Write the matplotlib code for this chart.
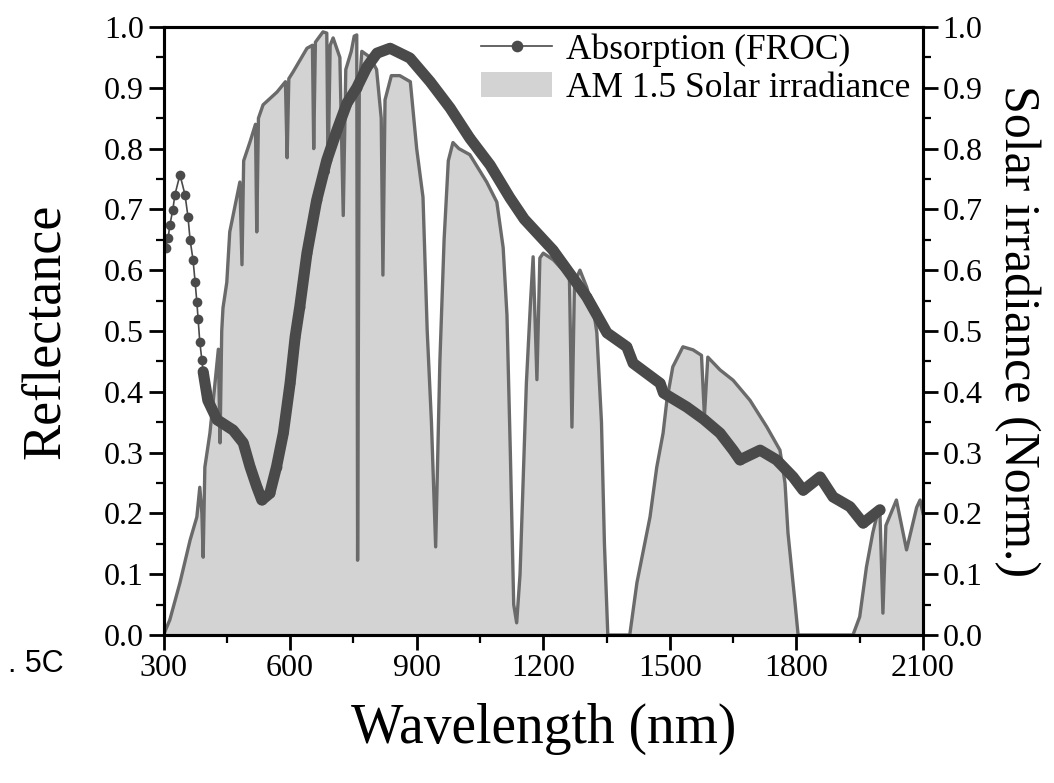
import matplotlib
matplotlib.use("Agg")
import matplotlib.pyplot as plt
from matplotlib.ticker import MultipleLocator

plt.rcParams['font.family'] = ['Liberation Serif', 'DejaVu Serif']

# Absorption (FROC) curve (nm, reflectance)
abs_wl = [305, 311, 315, 322, 327, 339, 351, 358, 363, 370, 375, 379, 382, 386,
          391, 394, 405, 427, 465, 489, 505, 521, 533, 552, 568, 584, 600, 612,
          623, 640, 663, 687, 711, 735, 758, 782, 806, 837, 884, 932, 979, 1026,
          1074, 1121, 1155, 1223, 1303, 1351, 1398, 1413, 1477, 1485, 1540, 1580,
          1619, 1650, 1666, 1714, 1753, 1792, 1816, 1856, 1887, 1927, 1958, 1998]
abs_val = [0.637, 0.653, 0.674, 0.699, 0.724, 0.757, 0.724, 0.688, 0.650, 0.617,
           0.580, 0.548, 0.520, 0.482, 0.452, 0.433, 0.386, 0.354, 0.337, 0.316,
           0.277, 0.244, 0.222, 0.233, 0.277, 0.332, 0.414, 0.490, 0.540, 0.628,
           0.715, 0.781, 0.830, 0.875, 0.900, 0.934, 0.957, 0.965, 0.949, 0.910,
           0.867, 0.817, 0.773, 0.719, 0.684, 0.633, 0.556, 0.497, 0.474, 0.447,
           0.414, 0.398, 0.375, 0.355, 0.332, 0.304, 0.288, 0.304, 0.288, 0.260,
           0.238, 0.260, 0.227, 0.211, 0.184, 0.206]

# AM 1.5 solar irradiance, normalised (nm, value)
sun_wl = [300, 315, 339, 363, 379, 386, 391, 394, 398, 410, 420, 430, 434, 438,
          441, 450, 457, 481, 486, 490, 505, 518, 521, 525, 536, 569, 589, 593,
          597, 607, 640, 653, 656, 660, 678, 687, 690, 695, 702, 718, 726, 732,
          745, 752, 758, 760, 764, 770, 790, 805, 816, 820, 825, 840, 860, 885,
          900, 915, 925, 935, 945, 955, 965, 975, 986, 1000, 1026, 1066, 1090,
          1105, 1114, 1122, 1130, 1137, 1145, 1160, 1170, 1176, 1185, 1192, 1200,
          1224, 1240, 1262, 1268, 1274, 1287, 1303, 1320, 1327, 1338, 1345, 1353,
          1405, 1422, 1453, 1469, 1484, 1493, 1507, 1531, 1555, 1575, 1582, 1590,
          1619, 1650, 1690, 1730, 1761, 1773, 1780, 1796, 1804, 1934, 1950, 1966,
          1981, 1990, 1998, 2005, 2012, 2037, 2061, 2085, 2093, 2100]
sun_val = [0.0, 0.025, 0.086, 0.156, 0.194, 0.243, 0.20, 0.128, 0.276, 0.332,
           0.40, 0.47, 0.316, 0.50, 0.538, 0.58, 0.663, 0.745, 0.609, 0.78, 0.811,
           0.84, 0.663, 0.85, 0.872, 0.893, 0.91, 0.785, 0.915, 0.926, 0.965, 0.97,
           0.80, 0.975, 0.992, 0.99, 0.76, 0.97, 0.982, 0.95, 0.69, 0.93, 0.96,
           0.985, 0.987, 0.123, 0.90, 0.96, 0.95, 0.93, 0.85, 0.592, 0.88, 0.92,
           0.92, 0.91, 0.80, 0.72, 0.50, 0.35, 0.145, 0.45, 0.65, 0.78, 0.81, 0.80,
           0.79, 0.745, 0.712, 0.637, 0.526, 0.30, 0.05, 0.02, 0.10, 0.414, 0.55,
           0.622, 0.42, 0.62, 0.628, 0.617, 0.605, 0.59, 0.342, 0.58, 0.60, 0.572,
           0.53, 0.497, 0.35, 0.15, 0.0, 0.0, 0.086, 0.194, 0.276, 0.332, 0.386,
           0.441, 0.474, 0.469, 0.46, 0.36, 0.457, 0.436, 0.419, 0.386, 0.342,
           0.304, 0.25, 0.168, 0.058, 0.0, 0.0, 0.03, 0.112, 0.168, 0.194, 0.20,
           0.036, 0.18, 0.222, 0.14, 0.21, 0.222, 0.20]

fill_col = '#d3d3d3'
edge_col = '#6a6a6a'
line_col = '#4a4a4a'

fig = plt.figure(figsize=(10.54, 7.83), dpi=100)
ax = fig.add_axes([163.5 / 1054, 1 - 635 / 783, (923 - 163.5) / 1054, (635 - 27) / 783])

ax.fill_between(sun_wl, sun_val, 0, color=fill_col, lw=0, zorder=1,
                label='AM 1.5 Solar irradiance')
ax.plot(sun_wl, sun_val, color=edge_col, lw=2.4, zorder=2)

# thick band for the dense part of the measured curve
ax.plot(abs_wl[15:], abs_val[15:], color=line_col, lw=8, solid_capstyle='round', zorder=3)
ax.plot(abs_wl, abs_val, color=line_col, lw=1.2, marker='o', ms=7,
        markeredgewidth=0, zorder=4, label='Absorption (FROC)')

ax.set_xlim(300, 2100)
ax.set_ylim(0, 1.0)
ax.xaxis.set_major_locator(MultipleLocator(300))
ax.xaxis.set_minor_locator(MultipleLocator(150))
ax.yaxis.set_major_locator(MultipleLocator(0.1))
ax.yaxis.set_minor_locator(MultipleLocator(0.05))
ax.yaxis.set_major_formatter(lambda v, p: f"{v:.1f}")

ax2 = ax.twinx()
ax2.set_ylim(0, 1.0)
ax2.yaxis.set_major_locator(MultipleLocator(0.1))
ax2.yaxis.set_minor_locator(MultipleLocator(0.05))
ax2.yaxis.set_major_formatter(lambda v, p: f"{v:.1f}")

for a in (ax, ax2):
    for s in a.spines.values():
        s.set_linewidth(2.2)
    a.tick_params(which='major', direction='out', length=11, width=2, labelsize=23, pad=3)
    a.tick_params(which='minor', direction='out', length=6, width=1.6)
ax.tick_params(top=False, right=False)
ax.tick_params(which='minor', top=False, right=False)

ax.set_xlabel('Wavelength (nm)', fontsize=40, labelpad=14)
ax.set_ylabel('Reflectance', fontsize=39, labelpad=24)
ax2.set_ylabel('Solar irradiance (Norm.)', fontsize=36, rotation=270, labelpad=42)

h, l = ax.get_legend_handles_labels()
ax.legend(h[::-1], l[::-1], loc='upper right', bbox_to_anchor=(1.012, 1.025),
          frameon=False, fontsize=25.5, handlelength=2.0, handletextpad=0.4,
          labelspacing=0.15, borderaxespad=0.2, markerscale=1.2)

fig.text(0.008, 1 - 664 / 783, '. 5C', fontsize=22, family='Liberation Sans', va='center')

fig.savefig('out.png', dpi=100)
